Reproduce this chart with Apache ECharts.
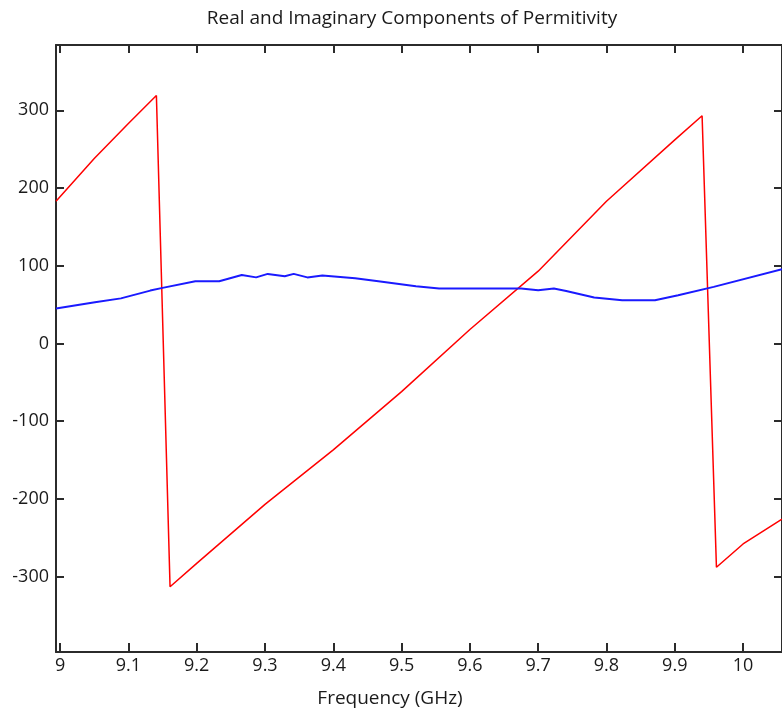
<!DOCTYPE html>
<html>
<head>
<meta charset="utf-8">
<script src="https://cdn.jsdelivr.net/npm/echarts@6/dist/echarts.min.js"></script>
<style>
  html, body { margin: 0; padding: 0; background: #ffffff; }
  #chart { width: 782px; height: 711px; }
</style>
</head>
<body>
<div id="chart"></div>
<script>
// Real part of permittivity (sawtooth) — frequency in GHz
const realFreq = [8.994, 9.05, 9.10, 9.141, 9.161, 9.2, 9.3, 9.4, 9.5, 9.6, 9.7, 9.8, 9.9, 9.94, 9.961, 10.0, 10.057];
const realVals = [183, 238, 283, 319, -313, -283, -207, -137, -62, 18, 93, 183, 262, 293, -288, -258, -226];

// Imaginary part of permittivity
const imagFreq = [8.994, 9.051, 9.089, 9.132, 9.150, 9.198, 9.233, 9.266, 9.287, 9.304, 9.329, 9.342, 9.362, 9.384, 9.432, 9.466, 9.521, 9.555, 9.675, 9.700, 9.723, 9.741, 9.782, 9.823, 9.871, 9.905, 9.957, 10.057];
const imagVals = [45, 53, 58, 68, 71.5, 80, 80, 88, 85, 89.5, 86.5, 89.5, 85, 87.5, 84, 80, 73.6, 70.7, 70.7, 68.5, 70.7, 67.6, 59, 55.7, 55.7, 62, 72.8, 95.5];

// Axis ticks
const freqTicks = [9.0, 9.1, 9.2, 9.3, 9.4, 9.5, 9.6, 9.7, 9.8, 9.9, 10.0];
const valueTicks = [-300, -200, -100, 0, 100, 200, 300];

const FONT = 'Open Sans';
const axisColor = '#2b2b2b';
const textColor = '#1a1a1a';

const pairs = (xs, ys) => xs.map((x, i) => [x, ys[i]]);

const chart = echarts.init(document.getElementById('chart'), null, { renderer: 'canvas' });

const tickStyle = { inside: true, length: 8, lineStyle: { color: axisColor, width: 2 } };

chart.setOption({
  animation: false,
  backgroundColor: '#ffffff',
  title: [
    {
      text: 'Real and Imaginary Components of Permitivity',
      left: 407, top: 4, textAlign: 'center',
      textStyle: { fontFamily: FONT, fontSize: 19, fontWeight: 'normal', color: textColor }
    },
    {
      text: 'Frequency (GHz)',
      left: 385, top: 684, textAlign: 'center',
      textStyle: { fontFamily: FONT, fontSize: 19, fontWeight: 'normal', color: textColor }
    }
  ],
  grid: { left: 56, top: 45, width: 730, height: 607, containLabel: false },
  xAxis: [
    {
      type: 'value', position: 'bottom', min: 8.994, max: 10.057,
      axisLine: { show: true, onZero: false, lineStyle: { color: axisColor, width: 2 } },
      axisTick: Object.assign({ customValues: freqTicks }, tickStyle, { length: 9 }),
      axisLabel: {
        customValues: freqTicks, margin: 5,
        fontFamily: FONT, fontSize: 18, color: textColor,
        formatter: v => (Math.round(v * 10) / 10).toString()
      },
      splitLine: { show: false }
    },
    {
      type: 'value', position: 'top', min: 8.994, max: 10.057,
      axisLine: { show: true, onZero: false, lineStyle: { color: axisColor, width: 2 } },
      axisTick: Object.assign({ customValues: freqTicks }, tickStyle),
      axisLabel: { show: false },
      splitLine: { show: false }
    }
  ],
  yAxis: [
    {
      type: 'value', position: 'left', min: -397, max: 384,
      axisLine: { show: true, onZero: false, lineStyle: { color: axisColor, width: 2 } },
      axisTick: Object.assign({ customValues: valueTicks }, tickStyle),
      axisLabel: {
        customValues: valueTicks, margin: 7,
        fontFamily: FONT, fontSize: 18, color: textColor
      },
      splitLine: { show: false }
    },
    {
      type: 'value', position: 'right', min: -397, max: 384,
      axisLine: { show: true, onZero: false, lineStyle: { color: axisColor, width: 2 } },
      axisTick: Object.assign({ customValues: valueTicks }, tickStyle),
      axisLabel: { show: false },
      splitLine: { show: false }
    }
  ],
  series: [
    {
      name: 'Real', type: 'line', xAxisIndex: 0, yAxisIndex: 0,
      data: pairs(realFreq, realVals),
      showSymbol: false, clip: true,
      lineStyle: { color: '#ff0000', width: 1.5 }
    },
    {
      name: 'Imaginary', type: 'line', xAxisIndex: 0, yAxisIndex: 0,
      data: pairs(imagFreq, imagVals),
      showSymbol: false, clip: true,
      lineStyle: { color: '#1a1aff', width: 2 }
    }
  ]
});
</script>
</body>
</html>
